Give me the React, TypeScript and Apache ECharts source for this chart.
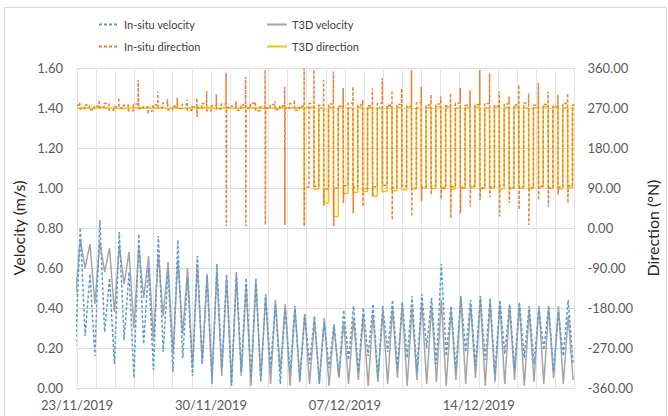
import React, { useEffect, useRef } from "react";
import * as echarts from "echarts";

// ---- axis / tick labels ----
const dateLabels = ["23/11/2019", "30/11/2019", "07/12/2019", "14/12/2019"];

// ---- tidal sampling (days since 23/11/2019 00:00) ----
const TIDE = 0.51; // one tidal cycle (days)
const PEAK_PHASE = 0.17; // time of first velocity peak
const EBB_PHASE = 0.14; // time of first direction switch
const EBB_LEN = 0.255; // duration of the ebb state
const SPIKE_W = 0.015; // width of a direction spike

// ---- velocity (m/s): peaks at PEAK_PHASE + k*TIDE, troughs half a cycle earlier ----
const t3dVelPeaks = [
  0.74, 0.72, 0.73, 0.7, 0.71, 0.68, 0.7, 0.66, 0.67, 0.63,
  0.64, 0.6, 0.62, 0.57, 0.58, 0.55, 0.56, 0.51, 0.53, 0.46,
  0.44, 0.42, 0.4, 0.37, 0.34, 0.35, 0.31, 0.33, 0.35, 0.36,
  0.37, 0.38, 0.4, 0.42, 0.4, 0.43, 0.41, 0.44, 0.39, 0.45,
  0.42, 0.44, 0.43, 0.42, 0.41, 0.42, 0.39, 0.41, 0.4, 0.41, 0.36,
];
const t3dVelTroughs = [
  0.45, 0.6, 0.42, 0.58, 0.38, 0.52, 0.3, 0.45, 0.24, 0.36,
  0.17, 0.27, 0.1, 0.12, 0.05, 0.06, 0.02, 0.06, 0.01, 0.05,
  0.02, 0.08, 0.01, 0.04, 0.02, 0.03, 0.01, 0.05, 0.02, 0.04,
  0.01, 0.03, 0.02, 0.05, 0.01, 0.04, 0.02, 0.03, 0.01, 0.04,
  0.02, 0.05, 0.01, 0.03, 0.02, 0.04, 0.01, 0.03, 0.02, 0.05,
  0.02, 0.04,
];
const insituVelPeaks = [
  0.8, 0.57, 0.84, 0.55, 0.78, 0.58, 0.77, 0.6, 0.76, 0.58,
  0.74, 0.55, 0.66, 0.56, 0.62, 0.57, 0.58, 0.55, 0.55, 0.47,
  0.42, 0.4, 0.41, 0.37, 0.36, 0.33, 0.32, 0.39, 0.41, 0.4,
  0.42, 0.41, 0.44, 0.43, 0.46, 0.47, 0.45, 0.62, 0.41, 0.46,
  0.44, 0.46, 0.45, 0.44, 0.42, 0.43, 0.41, 0.4, 0.41, 0.38, 0.44,
];
const insituVelTroughs = [
  0.18, 0.26, 0.16, 0.28, 0.12, 0.24, 0.05, 0.22, 0.09, 0.18,
  0.08, 0.15, 0.06, 0.12, 0.02, 0.1, 0.01, 0.08, 0.05, 0.03,
  0.1, 0.02, 0.08, 0.03, 0.12, 0.02, 0.1, 0.06, 0.14, 0.08,
  0.16, 0.05, 0.18, 0.1, 0.15, 0.08, 0.2, 0.12, 0.16, 0.09,
  0.18, 0.11, 0.14, 0.07, 0.17, 0.1, 0.15, 0.12, 0.19, 0.08,
  0.16, 0.12,
];

// ---- direction (°N) per tidal cycle ----
const t3dDirHigh = [
  270, 271, 270, 269, 270, 271, 270, 270, 269, 271,
  270, 270, 271, 269, 270, 270, 271, 270, 269, 270,
  271, 270, 270, 272, 270, 271, 273, 270, 272, 271,
  270, 273, 271, 272, 270, 271, 273, 272, 270, 271,
  272, 270, 273, 271, 272, 270, 271, 273, 272, 270, 271,
];
const t3dDirLow = [
  270, 270, 271, 270, 269, 270, 270, 271, 270, 270,
  269, 270, 271, 270, 270, 269, 270, 271, 270, 270,
  269, 270, 271, 271, 88, 56, 26, 78, 80, 82,
  72, 82, 84, 86, 88, 90, 89, 91, 88, 90,
  92, 89, 90, 88, 91, 90, 89, 92, 90, 88, 91,
];
const t3dDirDown = [
  null, null, null, null, null, null, null, null, null, null,
  null, null, null, null, null, null, null, null, null, null,
  null, null, null, 4, null, null, null, null, null, null,
  null, null, null, null, null, null, null, null, null, null,
  null, null, null, null, null, null, null, null, null, null, null,
];
const insituDirFlood = [
  277, 274, 280, 272, 276, 279, 273, 277, 281, 274,
  278, 273, 280, 275, 279, 274, 277, 281, 273, 278,
  275, 280, 274, 280, 276, 279, 274, 281, 277, 275,
  280, 276, 278, 274, 282, 277, 279, 275, 281, 276,
  278, 280, 275, 279, 277, 281, 276, 278, 274, 280, 277,
];
const insituDirEbb = [
  268, 266, 271, 265, 270, 264, 269, 263, 271, 266,
  269, 265, 270, 264, 268, 271, 265, 269, 264, 270,
  266, 269, 265, 92, 94, 88, 90, 95, 92, 89,
  93, 96, 91, 94, 90, 92, 95, 89, 93, 91,
  94, 90, 92, 96, 89, 93, 91, 94, 90, 92, 95,
];
const insituDirUp = [
  282, null, 288, null, 293, null, 333, null, 307, 290,
  293, 289, 292, 308, 301, 349, 285, 340, 283, 356,
  285, 318, 288, 359, 356, 333, 352, 315, 318, 288,
  314, 337, 310, 314, 355, 318, 300, 296, 303, 315,
  310, 355, 348, 307, 296, 322, 303, 326, 307, 300, 303,
];
const insituDirDown = [
  null, null, null, null, null, null, null, 256, null, null,
  null, null, 250, null, null, 4, null, 4, null, 7,
  null, 7, null, 4, null, 50, 4, 56, 33, 48,
  71, null, 18, null, 26, 60, 75, 65, 22, 33,
  48, 63, 70, 26, 56, 41, 7, 63, 48, 75, 56,
];

const X_MAX = 26;

function velocityData(troughs: number[], peaks: number[]) {
  const out: number[][] = [];
  for (let k = 0; k < troughs.length; k++) {
    out.push([PEAK_PHASE - TIDE / 2 + TIDE * k, troughs[k]]);
    if (k < peaks.length) out.push([PEAK_PHASE + TIDE * k, peaks[k]]);
  }
  return out;
}

function directionData(
  high: number[],
  low: number[],
  up?: (number | null)[],
  down?: (number | null)[]
) {
  const out: number[][] = [[0, high[0]]];
  for (let k = 0; k < high.length; k++) {
    let t = EBB_PHASE + TIDE * k;
    if (up && up[k] != null) {
      out.push([t, up[k] as number]);
      t += SPIKE_W;
    }
    if (down && down[k] != null) {
      out.push([t, down[k] as number]);
      t += SPIKE_W;
    }
    out.push([t, low[k]]);
    out.push([EBB_PHASE + TIDE * k + EBB_LEN, high[k]]);
  }
  out.push([X_MAX, high[high.length - 1]]);
  return out;
}

const FONT = "Lato";

export default function App() {
  const ref = useRef<HTMLDivElement>(null);
  useEffect(() => {
    if (!ref.current) return;
    const chart = echarts.init(ref.current, null, { renderer: "svg" });
    const legendCommon = {
      padding: 0,
      itemWidth: 20,
      itemHeight: 10,
      itemGap: 6,
      selectedMode: false,
      itemStyle: { opacity: 0 },
      textStyle: { fontFamily: FONT, fontSize: 11, color: "#404040" },
    };
    chart.setOption({
      animation: false,
      backgroundColor: "#ffffff",
      textStyle: { fontFamily: FONT },
      graphic: [
        {
          type: "rect",
          silent: true,
          shape: { x: 4.5, y: 7.5, width: 662, height: 430 },
          style: { fill: "none", stroke: "#d9d9d9", lineWidth: 1 },
        },
      ],
      legend: [
        { ...legendCommon, left: 98, top: 19, data: ["In-situ velocity"] },
        { ...legendCommon, left: 266, top: 19, data: ["T3D velocity"] },
        { ...legendCommon, left: 98, top: 41, data: ["In-situ direction"] },
        { ...legendCommon, left: 266, top: 41, data: ["T3D direction"] },
      ],
      grid: { left: 77, right: 85, top: 68, bottom: 28, containLabel: false },
      xAxis: {
        type: "value",
        min: 0,
        max: X_MAX,
        interval: 1,
        axisLine: { show: true, lineStyle: { color: "#d9d9d9" } },
        axisTick: { show: false },
        splitLine: { show: true, lineStyle: { color: "#e3e3e3", width: 1 } },
        axisLabel: {
          margin: 10,
          fontFamily: FONT,
          fontSize: 13,
          color: "#595959",
          formatter: (v: number) =>
            v % 7 === 0 && dateLabels[v / 7] ? dateLabels[v / 7] : "",
        },
      },
      yAxis: [
        {
          type: "value",
          min: 0,
          max: 1.6,
          interval: 0.2,
          name: "Velocity (m/s)",
          nameLocation: "middle",
          nameGap: 31,
          nameTextStyle: { fontFamily: FONT, fontSize: 16, color: "#262626" },
          axisLine: { show: false },
          axisTick: { show: false },
          splitLine: { show: true, lineStyle: { color: "#d9d9d9" } },
          axisLabel: {
            margin: 14,
            fontFamily: FONT,
            fontSize: 13,
            color: "#595959",
            formatter: (v: number) => v.toFixed(2),
          },
        },
        {
          type: "value",
          min: -360,
          max: 360,
          interval: 90,
          name: "Direction (°N)",
          nameLocation: "middle",
          nameGap: 64,
          nameRotate: 90,
          nameTextStyle: { fontFamily: FONT, fontSize: 16, color: "#262626" },
          axisLine: { show: false },
          axisTick: { show: false },
          splitLine: { show: false },
          axisLabel: {
            margin: 13,
            fontFamily: FONT,
            fontSize: 13,
            color: "#595959",
            formatter: (v: number) => v.toFixed(2),
          },
        },
      ],
      series: [
        {
          name: "T3D velocity",
          type: "line",
          yAxisIndex: 0,
          symbol: "none",
          color: "#a5a5a5",
          lineStyle: { color: "#a5a5a5", width: 1.5 },
          data: velocityData(t3dVelTroughs, t3dVelPeaks),
        },
        {
          name: "In-situ velocity",
          type: "line",
          yAxisIndex: 0,
          symbol: "none",
          color: "#5b9bd5",
          lineStyle: { color: "#5b9bd5", width: 1.5, type: [3, 2] },
          data: velocityData(insituVelTroughs, insituVelPeaks),
        },
        {
          name: "T3D direction",
          type: "line",
          yAxisIndex: 1,
          symbol: "none",
          step: "end",
          color: "#ffc000",
          lineStyle: { color: "#ffc000", width: 1.5 },
          data: directionData(t3dDirHigh, t3dDirLow, undefined, t3dDirDown),
        },
        {
          name: "In-situ direction",
          type: "line",
          yAxisIndex: 1,
          symbol: "none",
          step: "end",
          color: "#ed7d31",
          lineStyle: { color: "#ed7d31", width: 1.5, type: [3, 2] },
          data: directionData(
            insituDirFlood,
            insituDirEbb,
            insituDirUp,
            insituDirDown
          ),
        },
      ],
    });
    return () => chart.dispose();
  }, []);
  return (
    <div
      ref={ref}
      style={{
        position: "fixed",
        left: 0,
        top: 0,
        width: 668,
        height: 416,
        background: "#fff",
      }}
    />
  );
}
